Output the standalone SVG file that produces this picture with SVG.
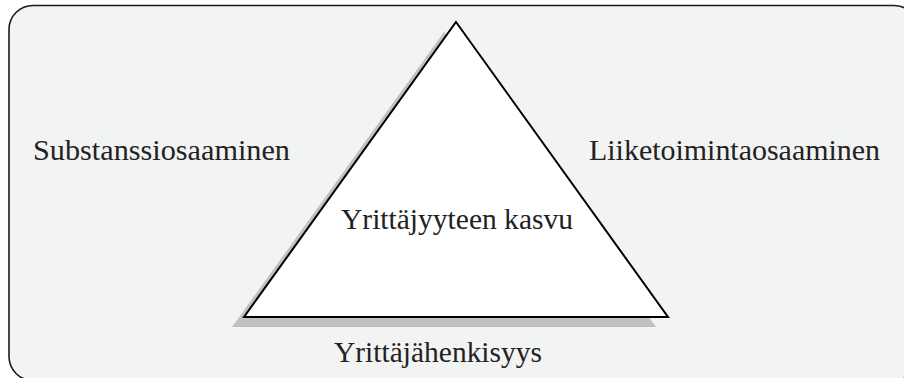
<svg xmlns="http://www.w3.org/2000/svg" width="904" height="378" viewBox="0 0 904 378">
  <style>
    .frame { fill: #f2f3f3; stroke: #1a1a1a; stroke-width: 1.6; }
    .shadow { fill: #c0c0c0; stroke: none; }
    .tri { fill: #ffffff; stroke: #000000; stroke-width: 2; stroke-linejoin: miter; }
    .lbl { font-family: "Liberation Serif", "Times New Roman", serif; font-size: 28.5px; fill: #222222; }
  </style>
  <defs>
    <polygon id="triShape" points="456,22 668,317 244,317"/>
  </defs>

  <!-- background panel, running past the right and bottom edges -->
  <g id="frame">
    <rect class="frame" x="9" y="5.5" width="909" height="375" rx="24" ry="24"/>
  </g>

  <!-- central triangle with its drop shadow -->
  <g id="triangle">
    <use href="#triShape" class="shadow" transform="translate(-12,10)"/>
    <use href="#triShape" class="tri"/>
    <text class="lbl" x="341" y="229" textLength="232" lengthAdjust="spacingAndGlyphs">Yrittäjyyteen kasvu</text>
  </g>

  <g id="substance">
    <text class="lbl" x="33" y="160" textLength="257" lengthAdjust="spacingAndGlyphs">Substanssiosaaminen</text>
  </g>

  <g id="business">
    <text class="lbl" x="589" y="160" textLength="291" lengthAdjust="spacingAndGlyphs">Liiketoimintaosaaminen</text>
  </g>

  <g id="entrepreneurship">
    <text class="lbl" x="334" y="362" textLength="208" lengthAdjust="spacingAndGlyphs">Yrittäjähenkisyys</text>
  </g>

  <g id="connectors"/>
</svg>
